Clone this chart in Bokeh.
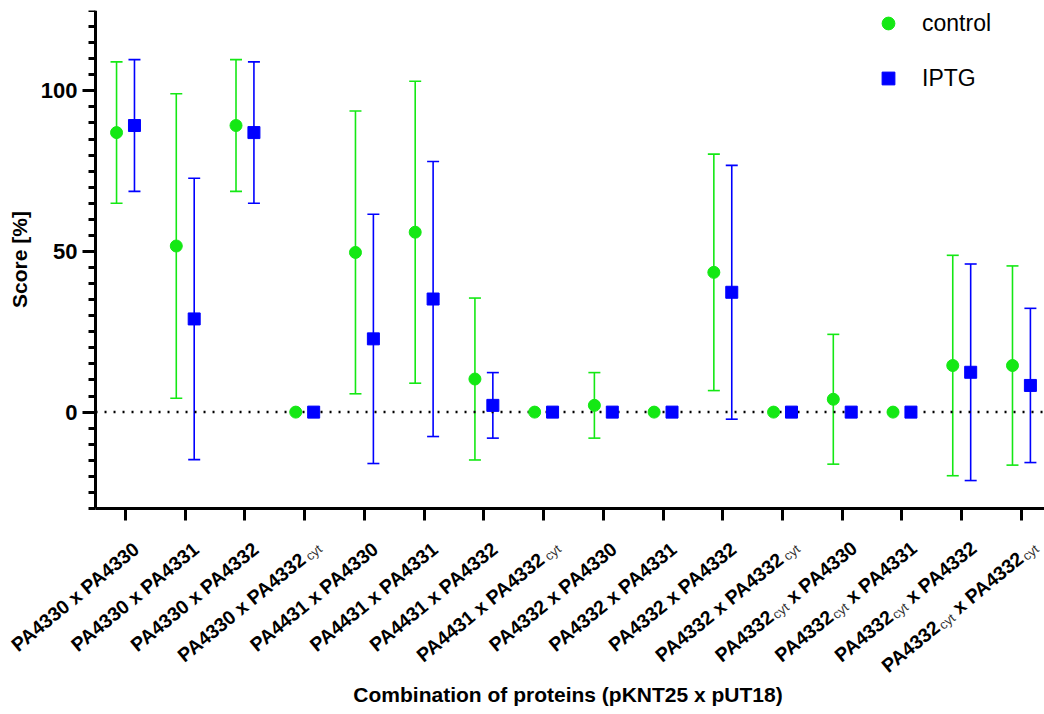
import math
import re
import pandas as pd
from bokeh.plotting import figure
from bokeh.models import (ColumnDataSource, Range1d, FixedTicker, SingleIntervalTicker,
                          Whisker, TeeHead, Label, Legend, LegendItem)
from bokeh.embed import file_html
from bokeh.resources import INLINE

# ---------------- data ----------------
categories = [
    "PA4330 x PA4330", "PA4330 x PA4331", "PA4330 x PA4332", "PA4330 x PA4332_cyt",
    "PA4431 x PA4330", "PA4431 x PA4331", "PA4431 x PA4332", "PA4431 x PA4332_cyt",
    "PA4332 x PA4330", "PA4332 x PA4331", "PA4332 x PA4332", "PA4332 x PA4332_cyt",
    "PA4332_cyt x PA4330", "PA4332_cyt x PA4331", "PA4332_cyt x PA4332", "PA4332_cyt x PA4332_cyt",
]
control_mean = [87.0, 51.7, 89.2, 0, 49.7, 56.0, 10.3, 0, 2.1, 0, 43.5, 0, 4.0, 0, 14.5, 14.5]
control_sd = [22.0, 47.4, 20.5, 0, 44.0, 47.0, 25.2, 0, 10.2, 0, 36.8, 0, 20.2, 0, 34.3, 31.0]
iptg_mean = [89.2, 29.0, 87.0, 0, 22.8, 35.2, 2.1, 0, 0, 0, 37.3, 0, 0, 0, 12.4, 8.3]
iptg_sd = [20.5, 43.8, 22.0, 0, 38.8, 42.8, 10.2, 0, 0, 0, 39.5, 0, 0, 0, 33.7, 24.0]
series_names = ["control", "IPTG"]
y_tick_interval = 50
y_axis_min, y_axis_max = -30, 125
x_axis_start = -0.502
x_title = "Combination of proteins (pKNT25 x pUT18)"
y_title = "Score [%]"

GREEN = "#14e814"
BLUE = "#0000ff"
FONT = "Liberation Sans"

idx = list(range(len(categories)))
df_c = pd.DataFrame({"x": [i - 0.15 for i in idx], "mean": control_mean, "sd": control_sd})
df_i = pd.DataFrame({"x": [i + 0.15 for i in idx], "mean": iptg_mean, "sd": iptg_sd})
for d in (df_c, df_i):
    d["upper"] = d["mean"] + d["sd"]
    d["lower"] = d["mean"] - d["sd"]

x_rng = Range1d(-2.093, 15.386)
p = figure(width=1044, height=712, x_range=x_rng, y_range=Range1d(-92.25, y_axis_max),
           output_backend="svg", toolbar_location=None,
           min_border_left=0, min_border_top=10, min_border_bottom=4, min_border_right=0)
p.outline_line_color = None
p.grid.visible = False

# y axis (inside the frame, so the rotated labels on the left are not clipped)
ya = p.yaxis[0]
ya.fixed_location = x_axis_start
ya.bounds = (y_axis_min, y_axis_max)
ya.ticker = SingleIntervalTicker(interval=y_tick_interval, num_minor_ticks=10)
ya.axis_line_width = 3
ya.axis_line_color = "black"
ya.major_tick_line_width = 3
ya.major_tick_out = 13
ya.major_tick_in = 0
ya.minor_tick_line_width = 3
ya.minor_tick_out = 7
ya.minor_tick_in = 0
ya.major_label_text_font = FONT
ya.major_label_text_font_style = "bold"
ya.major_label_text_font_size = "22px"
ya.major_label_text_color = "black"
ya.major_label_standoff = 5
ya.axis_label = y_title
ya.axis_label_text_font = FONT
ya.axis_label_text_font_style = "bold"
ya.axis_label_text_font_size = "21px"
ya.axis_label_text_color = "black"
ya.axis_label_standoff = 7

# x axis
xa = p.xaxis[0]
xa.fixed_location = y_axis_min
xa.bounds = (x_axis_start, x_rng.end)
xa.ticker = FixedTicker(ticks=idx)
xa.major_label_overrides = {i: "" for i in idx}
xa.axis_line_width = 3
xa.axis_line_color = "black"
xa.major_tick_line_width = 3
xa.major_tick_out = 12
xa.major_tick_in = 0
xa.minor_tick_line_color = None

# zero reference line
p.segment(x0=[x_axis_start], y0=[0], x1=[x_rng.end], y1=[0],
          line_color="black", line_width=2.5, line_dash="2 7")

# error bars
for d, col in ((df_c, GREEN), (df_i, BLUE)):
    src = ColumnDataSource(d[d["sd"] > 0])
    w = Whisker(source=src, base="x", upper="upper", lower="lower",
                line_color=col, line_width=1.6,
                upper_head=TeeHead(size=12, line_color=col, line_width=1.6),
                lower_head=TeeHead(size=12, line_color=col, line_width=1.6))
    p.add_layout(w)

r1 = p.scatter(x="x", y="mean", source=ColumnDataSource(df_c), marker="circle", size=12,
               fill_color=GREEN, line_color=GREEN)
r2 = p.scatter(x="x", y="mean", source=ColumnDataSource(df_i), marker="square", size=12,
               fill_color=BLUE, line_color=BLUE)

legend = Legend(items=[LegendItem(label=series_names[0], renderers=[r1]),
                       LegendItem(label=series_names[1], renderers=[r2])],
                location=(872, 614), glyph_width=32, glyph_height=32, spacing=23,
                padding=0, margin=0, label_standoff=18, border_line_color=None,
                background_fill_alpha=0, label_text_font=FONT, label_text_font_size="23px",
                label_text_color="black")
p.add_layout(legend)

# x axis title
p.add_layout(Label(x=(x_axis_start + 15.319) / 2, y=y_axis_min, y_offset=-186,
                   text=x_title, text_align="center", text_baseline="middle",
                   text_font=FONT, text_font_style="bold", text_font_size="21px",
                   text_color="black"))

# rotated category labels with subscripts
BOLD_W = {"P": .667, "A": .722, " ": .278, "x": .556}
REG_W = {"c": .5, "y": .5, "t": .278}
MAIN_PX = 19.4
SUB_PX = 13
THETA = math.radians(39.5)
EX, EY = 13.0, -35.7   # baseline end relative to tick (up positive)
SUB_SHIFT = 4.0


def seg_width(txt, sub):
    if sub:
        return sum(REG_W.get(ch, .5) for ch in txt) * SUB_PX
    return sum(BOLD_W.get(ch, .556) for ch in txt) * MAIN_PX


c, s = math.cos(THETA), math.sin(THETA)
for i, lbl in enumerate(categories):
    parts = re.split(r"_(cyt)", lbl)
    segs = []
    pos = 0.0
    for k, t in enumerate(parts):
        if not t:
            continue
        sub = (k % 2 == 1)
        lead = len(t) - len(t.lstrip(" "))
        pos += seg_width(" " * lead, sub)
        t2 = t.strip(" ")
        segs.append((t2, sub, pos))
        pos += seg_width(t2, sub)
        trail = len(t) - len(t.rstrip(" "))
        pos += seg_width(" " * trail, sub)
    W = pos
    for t2, sub, d0 in segs:
        back = W - d0
        ox = EX - back * c
        oy = EY - back * s
        if sub:
            ox += SUB_SHIFT * s
            oy -= SUB_SHIFT * c
        p.add_layout(Label(x=i, y=y_axis_min, x_units="data", y_units="data", x_offset=ox, y_offset=oy,
                           text=t2, angle=THETA, text_align="left", text_baseline="alphabetic",
                           text_font=FONT, text_font_style="normal" if sub else "bold",
                           text_font_size=f"{SUB_PX if sub else MAIN_PX}px",
                           text_color="#333333" if sub else "black"))

open("out.html", "w").write(file_html(p, INLINE))
